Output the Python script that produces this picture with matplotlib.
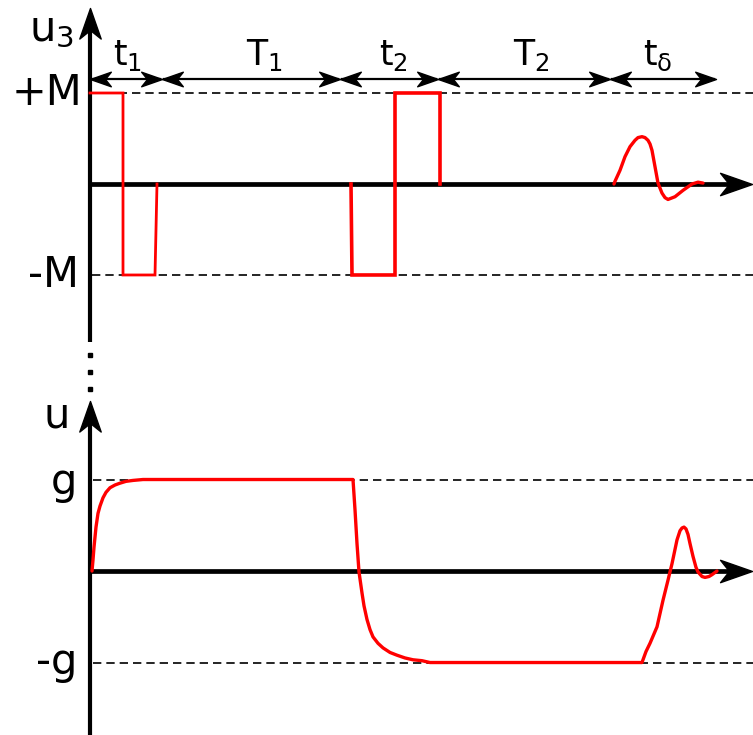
import numpy as np
import matplotlib
matplotlib.use("Agg")
import matplotlib.pyplot as plt
from matplotlib.path import Path

plt.rcParams["font.family"] = ["DejaVu Sans"]
plt.rcParams["mathtext.fontset"] = "dejavusans"

# interval boundaries along the time axis
t_edges = [0, 72, 250, 348, 520, 626]
t_names = [r"$\mathregular{t_1}$", r"$\mathregular{T_1}$", r"$\mathregular{t_2}$",
           r"$\mathregular{T_2}$", r"$\mathregular{t_δ}$"]
t_name_x = [38, 174, 303, 441, 568]

# relay output u3 (units of M)
u3_t = [0, 33, 33, 65, 67]
u3_v = [1, 1, -1, -1, 0]
u3b_t = [261, 262, 305, 305, 350, 350]
u3b_v = [0, -1, -1, 1, 1, 0]
osc_t = [524, 525, 530, 535, 540, 545, 548, 552, 555, 558, 560, 562, 565, 568, 572,
         575, 578, 585, 593, 602, 608, 613]
osc_v = [0.0, 0.03, 0.15, 0.30, 0.41, 0.48, 0.51, 0.52, 0.51, 0.48, 0.44, 0.37, 0.19,
         0.01, -0.10, -0.15, -0.17, -0.14, -0.07, 0.0, 0.02, 0.01]

# control u (units of g)
u_t = [2, 3, 4, 5, 6, 8, 10, 13, 16, 20, 25, 30, 36, 43, 53,
       263, 265, 267, 269, 272, 274, 277, 280, 283, 288, 293, 300, 307, 315, 323, 332, 340,
       552, 556, 560, 567, 573, 578, 582, 587, 590, 592, 594, 596, 598, 600, 603, 606,
       608, 612, 615, 619, 622, 627]
u_v = [0, 0.12, 0.26, 0.37, 0.48, 0.63, 0.71, 0.80, 0.86, 0.91, 0.94, 0.96, 0.98, 0.99,
       1.0,
       1.0, 0.67, 0.30, -0.01, -0.24, -0.38, -0.53, -0.64, -0.72, -0.79, -0.84, -0.89,
       -0.92, -0.95, -0.97, -0.98, -1.0,
       -1.0, -0.88, -0.79, -0.61, -0.32, -0.10, 0.08, 0.34, 0.44, 0.47, 0.48, 0.46,
       0.40, 0.30, 0.16, 0.04, -0.01, -0.06, -0.07, -0.06, -0.04, 0.0]

RED = "#ff0000"


# concave arrowheads, tip at the origin
def head(direction):
    verts = np.array([(0, 0), (-1, 0.35), (-0.72, 0), (-1, -0.35), (0, 0)])
    if direction == "left":
        verts[:, 0] *= -1
    elif direction == "up":
        verts = verts[:, ::-1]
    codes = [Path.MOVETO, Path.LINETO, Path.LINETO, Path.LINETO, Path.CLOSEPOLY]
    return Path(verts, codes)


fig = plt.figure(figsize=(7.53, 7.35), dpi=100)
ax1 = fig.add_axes([0, 340 / 735, 1, 395 / 735])
ax2 = fig.add_axes([0, 0, 1, 340 / 735])
ax1.set_xlim(-90, 663)
ax1.set_ylim(-2.319, 2.022)
ax2.set_xlim(-90, 663)
ax2.set_ylim(-1.792, 1.9235)
for ax in (ax1, ax2):
    ax.axis("off")

# --- top panel: u3 ---
for lvl in (1, -1):
    ax1.plot([2, 663], [lvl, lvl], color="black", lw=1.2, ls=(0, (5, 3)), clip_on=False)
ax1.plot([0, 650], [0, 0], color="black", lw=3.4, solid_capstyle="butt")
ax1.plot([662], [0], marker=head("right"), ms=46, color="black", clip_on=False)
ax1.plot([0, 0], [-1.736, 1.85], color="black", lw=3.0, solid_capstyle="butt")
ax1.plot([0], [1.934], marker=head("up"), ms=44, color="black", clip_on=False)
ax1.plot([0, 0, 0], [-1.879, -2.066, -2.253], ls="none", marker="s", ms=3.2, color="black")

ax1.plot(u3_t, u3_v, color=RED, lw=2.0, solid_joinstyle="miter")
ax1.plot(u3b_t, u3b_v, color=RED, lw=2.6, solid_joinstyle="miter")
ax1.plot(osc_t, osc_v, color=RED, lw=2.4, solid_capstyle="round", solid_joinstyle="round")

# interval arrows
y_arr = 1.154
for i in range(len(t_edges) - 1):
    a, b = t_edges[i], t_edges[i + 1]
    ax1.plot([a + 2, b - 2], [y_arr, y_arr], color="black", lw=1.6)
    ax1.plot([a], [y_arr], marker=head("left"), ms=30, color="black", clip_on=False)
    ax1.plot([b], [y_arr], marker=head("right"), ms=30, color="black", clip_on=False)
    ax1.text(t_name_x[i], 1.31, t_names[i], fontsize=25, ha="center", va="baseline")

ax1.text(-8, 1.0, "+M", fontsize=30, ha="right", va="center")
ax1.text(-11, -1.0, "-M", fontsize=30, ha="right", va="center")
ax1.text(-16, 1.70, r"$\mathregular{u_3}$", fontsize=30, ha="right", va="center")

# --- bottom panel: u ---
for lvl in (1, -1):
    ax2.plot([3, 663], [lvl, lvl], color="black", lw=1.2, ls=(0, (5, 3)), clip_on=False)
ax2.plot([0, 650], [0, 0], color="black", lw=3.4, solid_capstyle="butt")
ax2.plot([662], [0], marker=head("right"), ms=46, color="black", clip_on=False)
ax2.plot([0, 0], [-1.9, 1.78], color="black", lw=3.0, solid_capstyle="butt")
ax2.plot([0], [1.858], marker=head("up"), ms=44, color="black", clip_on=False)

ax2.plot(u_t, u_v, color=RED, lw=2.4, solid_joinstyle="round", solid_capstyle="round")

ax2.text(-33, 1.70, "u", fontsize=30, ha="center", va="center")
ax2.text(-13, 0.97, "g", fontsize=30, ha="right", va="center")
ax2.text(-13, -0.99, "-g", fontsize=30, ha="right", va="center")

fig.savefig("out.png", dpi=100)
